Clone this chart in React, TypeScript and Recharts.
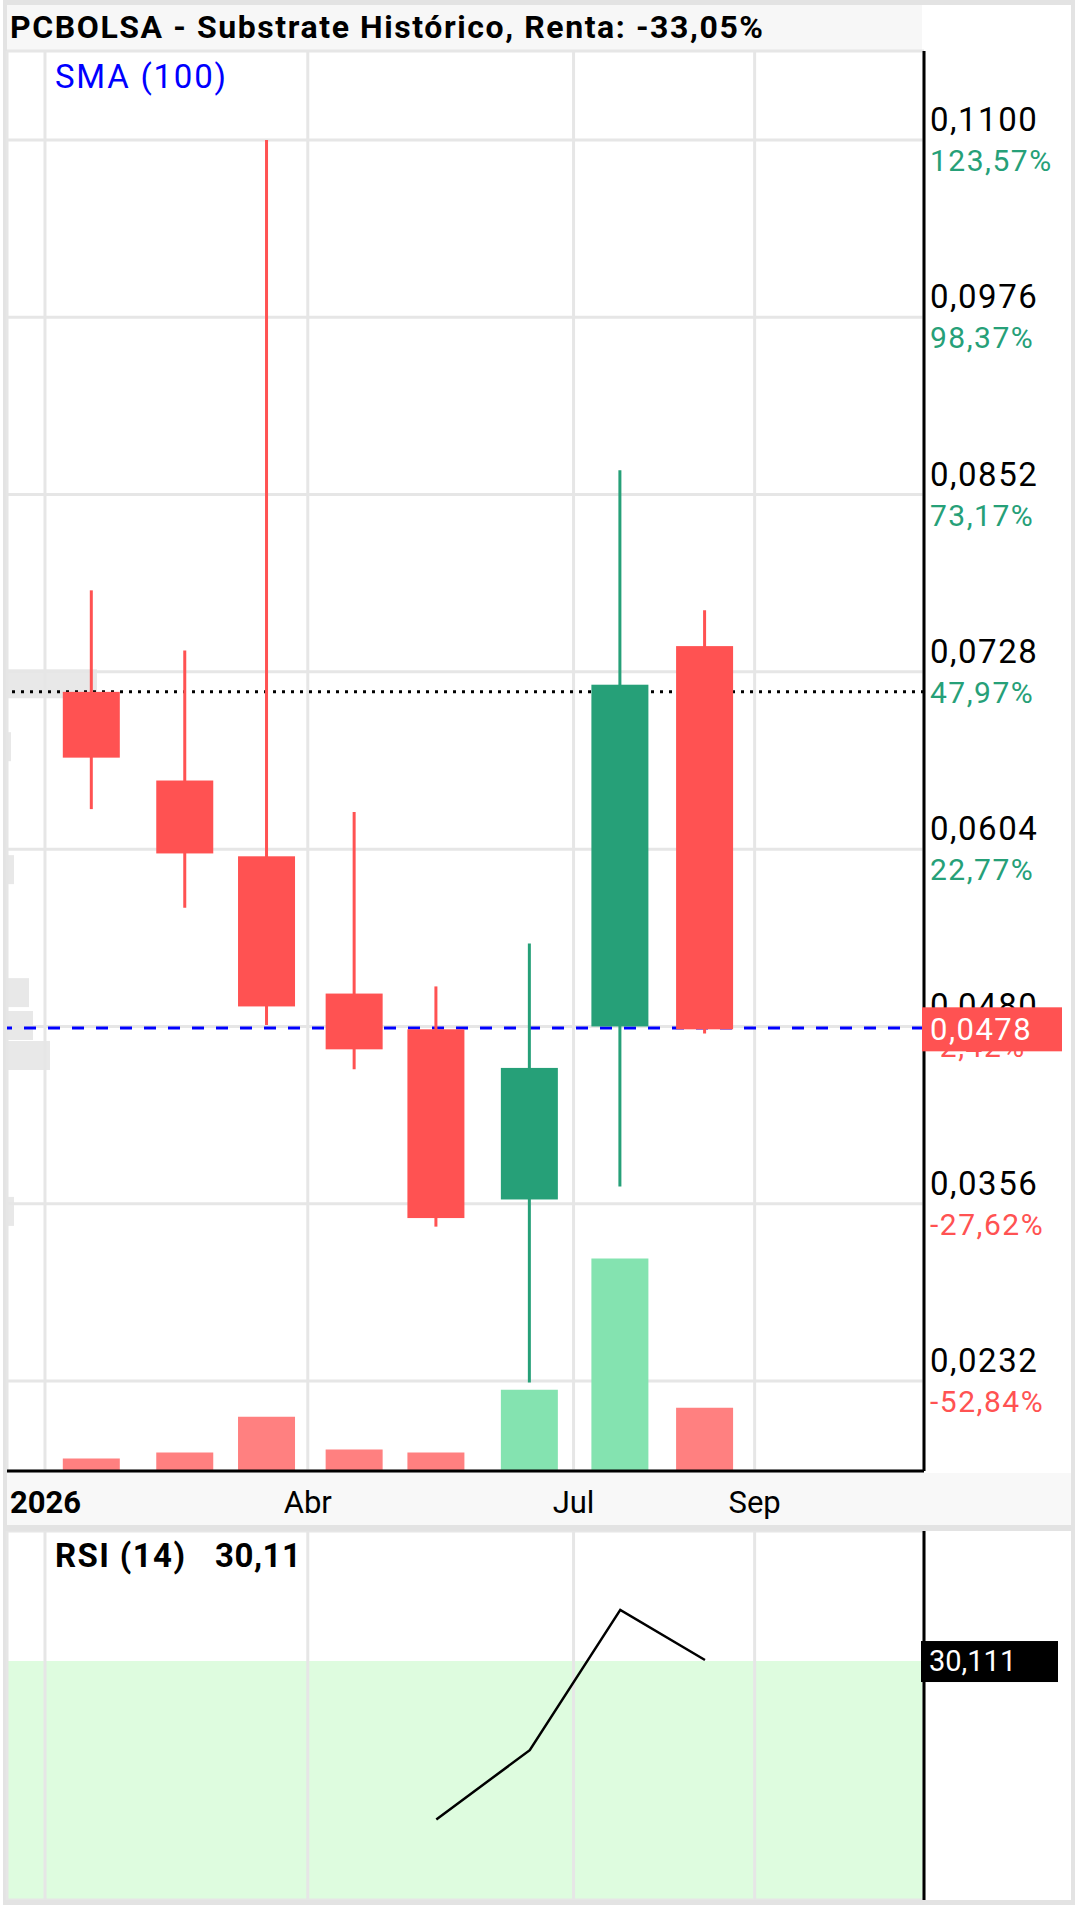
import React from "react";
import {
  ComposedChart,
  LineChart,
  Line,
  Bar,
  XAxis,
  YAxis,
  CartesianGrid,
  ReferenceLine,
  ReferenceArea,
  Cell,
} from "recharts";

const FONT = "Roboto, 'Noto Sans', sans-serif";
const RED = "#ff5252";
const GREEN = "#26a078";
const RED_VOL = "#ff8080";
const GREEN_VOL = "#84e3b0";
const GRID = "#e6e6e6";

// ---- data ----
const dates = ["2026-01-17", "2026-02-18", "2026-03-18", "2026-04-17", "2026-05-15", "2026-06-16", "2026-07-17", "2026-08-15"];
const opens = [0.0714, 0.0652, 0.0599, 0.0503, 0.0478, 0.0359, 0.048, 0.0746];
const highs = [0.0785, 0.0743, 0.11, 0.063, 0.0508, 0.0538, 0.0869, 0.0771];
const lows = [0.0632, 0.0563, 0.0481, 0.045, 0.034, 0.0231, 0.0368, 0.0475];
const closes = [0.0668, 0.0601, 0.0494, 0.0464, 0.0346, 0.0451, 0.0719, 0.0478];
const volumes = [127, 187, 547, 217, 187, 817, 2140, 637];
const rsiValues = [null, null, null, null, 10.1, 18.8, 36.4, 30.111];
const smaValue = 0.0479;

const xTickDates = ["2026-01-01", "2026-04-01", "2026-07-01", "2026-09-01"];
const xTickLabels = ["2026", "Abr", "Jul", "Sep"];
const priceTicks = [0.0232, 0.0356, 0.048, 0.0604, 0.0728, 0.0852, 0.0976, 0.11];
const pctLabels = ["-52,84%", "-27,62%", "-2,42%", "22,77%", "47,97%", "73,17%", "98,37%", "123,57%"];
const priceDomain = [0.01691, 0.11622];
const xDomain = [-13, 301];
const volumeDomain = [0, 14300];
const rsiDomain = [0, 46.3];
const rsiTicks = [30];
const rsiOversold = 30;

const profilePrices = [0.072, 0.0676, 0.059, 0.0504, 0.0481, 0.046, 0.0351];
const profileVolumes = [900, 40, 70, 220, 260, 430, 70];
const profileDomain = [0, 9170];

// ---- helpers ----
const EPOCH = Date.parse("2026-01-01");
const toDay = (s: string) => (Date.parse(s) - EPOCH) / 86400000;
const fmt = (v: number, d = 4) => v.toFixed(d).replace(".", ",");

const candleData = dates.map((d, i) => ({
  day: toDay(d),
  open: opens[i],
  high: highs[i],
  low: lows[i],
  close: closes[i],
  vol: volumes[i],
  rsi: rsiValues[i],
}));
const xTickDays = xTickDates.map(toDay);
const profileData = profilePrices.map((p, i) => ({ price: p, vol: profileVolumes[i] }));
const lastClose = closes[closes.length - 1];
const lastRsi = rsiValues[rsiValues.length - 1] as number;

const W = 1076;
const MAIN_H = 1531;
const PLOT_TOP = 51;
const LEFT = 7;
const AXIS_W = 152;
const XAXIS_H = 60;

const Candle = (props: any) => {
  const { x, y, width, height, payload } = props;
  const { open, close, high, low } = payload;
  const per = height / (high - low);
  const yOf = (v: number) => y + (high - v) * per;
  const color = close >= open ? GREEN : RED;
  const cx = x + width / 2;
  const top = yOf(Math.max(open, close));
  const bot = yOf(Math.min(open, close));
  return (
    <g>
      <line x1={cx} x2={cx} y1={y} y2={y + height} stroke={color} strokeWidth={3} />
      <rect x={x} y={top} width={width} height={Math.max(1, bot - top)} fill={color} />
    </g>
  );
};

const PriceTick = (props: any) => {
  const { x, y, payload } = props;
  const i = priceTicks.indexOf(payload.value);
  const pct = pctLabels[i] || "";
  const neg = pct.startsWith("-");
  return (
    <g>
      <text x={x} y={y - 9} fontSize={33} letterSpacing={1.5} fill="#000" fontFamily={FONT} textAnchor="start">
        {fmt(payload.value)}
      </text>
      <text x={x} y={y + 31} fontSize={30} letterSpacing={1.5} fill={neg ? RED : GREEN} fontFamily={FONT} textAnchor="start">
        {pct}
      </text>
    </g>
  );
};

const DateTick = (props: any) => {
  const { x, y, payload } = props;
  const i = xTickDays.indexOf(payload.value);
  const first = i === 0;
  return (
    <text
      x={first ? x - 35 : x}
      y={y + 42}
      textAnchor={first ? "start" : "middle"}
      fontWeight={first ? 700 : 400}
      fontSize={31}
      fill="#000"
      fontFamily={FONT}
    >
      {xTickLabels[i]}
    </text>
  );
};

const LastPriceLabel = (props: any) => {
  const vb = props.viewBox || {};
  const right = vb.x + vb.width;
  const y = vb.y;
  return (
    <g>
      <rect x={right - 2} y={y - 22} width={140} height={44} fill={RED} />
      <text x={right + 6} y={y + 11} fill="#fff" fontSize={31} letterSpacing={1.5} fontFamily={FONT}>
        {fmt(lastClose)}
      </text>
    </g>
  );
};

const RsiLabel = (props: any) => {
  const vb = props.viewBox || {};
  const right = vb.x + vb.width;
  const y = vb.y;
  return (
    <g>
      <rect x={right - 3} y={y - 19} width={137} height={41} fill="#000" />
      <text x={right + 5} y={y + 11} fill="#fff" fontSize={29} fontFamily={FONT}>
        {fmt(lastRsi, 3)}
      </text>
    </g>
  );
};

const abs = (top: number): React.CSSProperties => ({ position: "absolute", left: 0, top });

export default function App() {
  return (
    <div style={{ position: "absolute", left: 0, top: 0, width: W, height: 1907, background: "#fff", fontFamily: FONT }}>
      {/* background layer */}
      <svg width={W} height={1907} style={abs(0)}>
        <rect x={0} y={0} width={W} height={1907} fill="#fff" />
        <rect x={7} y={5} width={915} height={46} fill="#f7f7f7" />
        <rect x={7} y={1473} width={1064} height={52} fill="#f8f8f8" />
        <rect x={3} y={1525} width={1072} height={6} fill="#e3e3e3" />
        <rect x={3} y={0} width={4} height={1905} fill="#e3e3e3" />
        <rect x={1071} y={0} width={4} height={1905} fill="#e3e3e3" />
        <rect x={3} y={0} width={1072} height={5} fill="#e3e3e3" />
        <rect x={3} y={1900} width={1072} height={5} fill="#e3e3e3" />
        <text x={10} y={38} fontSize={32} fontWeight={700} fill="#000" fontFamily={FONT} textLength={753} lengthAdjust="spacing">
          PCBOLSA - Substrate Histórico, Renta: -33,05%
        </text>
        <text x={55} y={88} fontSize={33} fill="#0000ff" fontFamily={FONT} textLength={171} lengthAdjust="spacing">
          SMA (100)
        </text>
        <text x={55} y={1567} fontSize={33} fontWeight={700} fill="#000" fontFamily={FONT} textLength={130} lengthAdjust="spacing">
          RSI (14)
        </text>
        <text x={215} y={1567} fontSize={33} fontWeight={700} fill="#000" fontFamily={FONT} textLength={86} lengthAdjust="spacing">
          {fmt(lastRsi, 2)}
        </text>
      </svg>

      {/* volume profile layer */}
      <div style={abs(0)}>
        <ComposedChart
          width={W}
          height={MAIN_H}
          data={profileData}
          layout="vertical"
          margin={{ top: PLOT_TOP, right: AXIS_W, left: LEFT, bottom: XAXIS_H }}
        >
          <XAxis type="number" hide domain={profileDomain} allowDataOverflow />
          <YAxis type="number" dataKey="price" hide reversed domain={priceDomain} allowDataOverflow />
          <Bar dataKey="vol" barSize={29} fill="#e8e8e8" isAnimationActive={false} />
        </ComposedChart>
      </div>

      {/* main price chart */}
      <div style={abs(0)}>
        <ComposedChart
          width={W}
          height={MAIN_H}
          data={candleData}
          margin={{ top: PLOT_TOP, right: 0, left: LEFT, bottom: 0 }}
        >
          <CartesianGrid xAxisId="t" yAxisId="p" stroke={GRID} strokeWidth={3} />
          <XAxis
            xAxisId="t"
            dataKey="day"
            type="number"
            domain={xDomain}
            ticks={xTickDays}
            allowDataOverflow
            height={XAXIS_H}
            axisLine={{ stroke: "#000", strokeWidth: 3 }}
            tickLine={false}
            tickSize={0}
            tickMargin={0}
            tick={<DateTick />}
            interval={0}
          />
          <XAxis xAxisId="tv" dataKey="day" type="number" domain={xDomain} hide allowDataOverflow />
          <YAxis
            yAxisId="p"
            orientation="right"
            type="number"
            domain={priceDomain}
            ticks={priceTicks}
            allowDataOverflow
            width={AXIS_W}
            axisLine={{ stroke: "#000", strokeWidth: 3 }}
            tickLine={false}
            tickSize={0}
            tickMargin={6}
            tick={<PriceTick />}
            interval={0}
          />
          <YAxis yAxisId="v" type="number" domain={volumeDomain} hide allowDataOverflow />
          <ReferenceLine xAxisId="t" yAxisId="p" y={opens[0]} stroke="#000" strokeWidth={3} strokeDasharray="3 6" zIndex={250} />
          <ReferenceLine xAxisId="t" yAxisId="p" y={smaValue} stroke="#0000ff" strokeWidth={3} strokeDasharray="12 12" zIndex={250} />
          <Bar xAxisId="tv" yAxisId="v" dataKey="vol" barSize={57} isAnimationActive={false}>
            {candleData.map((d, i) => (
              <Cell key={i} fill={d.close >= d.open ? GREEN_VOL : RED_VOL} />
            ))}
          </Bar>
          <Bar
            xAxisId="t"
            yAxisId="p"
            dataKey={(d: any) => [d.low, d.high]}
            barSize={57}
            shape={<Candle />}
            isAnimationActive={false}
          />
          <ReferenceLine
            xAxisId="t"
            yAxisId="p"
            y={lastClose}
            stroke="none"
            zIndex={2500}
            label={<LastPriceLabel />}
          />
        </ComposedChart>
      </div>

      {/* RSI chart */}
      <div style={abs(1531)}>
        <LineChart width={W} height={369} data={candleData} margin={{ top: 0, right: 0, left: LEFT, bottom: 0 }}>
          <ReferenceArea y1={0} y2={rsiOversold} fill="#defcdf" fillOpacity={1} stroke="none" zIndex={-150} />
          <CartesianGrid stroke={GRID} strokeWidth={3} />
          <XAxis dataKey="day" type="number" domain={xDomain} ticks={xTickDays} hide allowDataOverflow />
          <YAxis
            orientation="right"
            type="number"
            domain={rsiDomain}
            ticks={rsiTicks}
            allowDataOverflow
            width={AXIS_W}
            axisLine={{ stroke: "#000", strokeWidth: 3 }}
            tickLine={false}
            tick={false}
          />
          <Line dataKey="rsi" stroke="#000" strokeWidth={2.5} dot={false} isAnimationActive={false} connectNulls={false} />
          <ReferenceLine y={lastRsi} stroke="none" zIndex={2500} label={<RsiLabel />} />
        </LineChart>
      </div>
    </div>
  );
}
